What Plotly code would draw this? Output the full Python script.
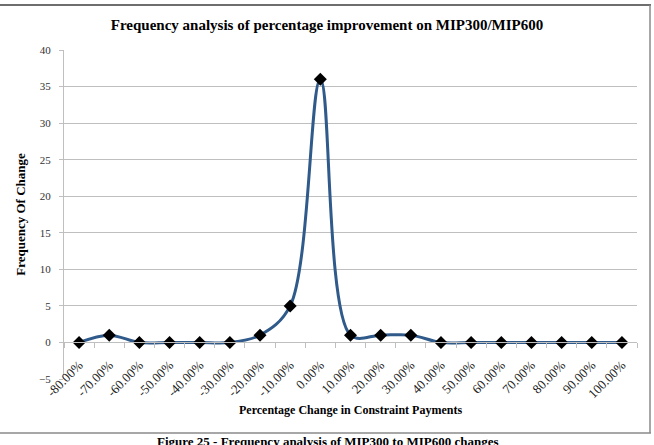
import plotly.graph_objects as go

categories = ["-80.00%", "-70.00%", "-60.00%", "-50.00%", "-40.00%", "-30.00%",
              "-20.00%", "-10.00%", "0.00%", "10.00%", "20.00%", "30.00%",
              "40.00%", "50.00%", "60.00%", "70.00%", "80.00%", "90.00%", "100.00%"]
frequency = [0, 1, 0, 0, 0, 0, 1, 5, 36, 1, 1, 1, 0, 0, 0, 0, 0, 0, 0]
y_ticks = [-5, 0, 5, 10, 15, 20, 25, 30, 35, 40]

SERIF = "Liberation Serif, Times New Roman, serif"
GRID = "#BFBFBF"

fig = go.Figure()
fig.add_trace(go.Scatter(
    x=categories, y=frequency, mode="lines+markers",
    line=dict(color="#2F5A8A", width=3, shape="spline", smoothing=1),
    marker=dict(symbol="diamond", size=10, color="black"),
    showlegend=False, hoverinfo="x+y",
))
# invisible helper trace so the crossing axis at y=0 has its categories
fig.add_trace(go.Scatter(
    x=categories, y=frequency, mode="lines", xaxis="x2",
    opacity=0, showlegend=False, hoverinfo="skip",
))

L, R, T, B = 64, 17, 50, 66
W, H = 654, 445
pw, ph = W - L - R, H - T - B

def px(x):
    return (x - L) / pw

def py(y):
    return (H - B - y) / ph

fig.update_layout(
    width=W, height=H,
    margin=dict(l=L, r=R, t=T, b=B, autoexpand=False),
    paper_bgcolor="white", plot_bgcolor="white",
    title=dict(text="<b>Frequency analysis of percentage improvement on MIP300/MIP600</b>",
               x=0.5, xref="container", xanchor="center",
               y=1 - 25 / H, yref="container", yanchor="middle",
               font=dict(family=SERIF, size=15, color="black")),
    xaxis=dict(
        type="category", range=[-0.5, len(categories) - 0.5], automargin=False,
        showticklabels=False, ticks="", showgrid=False, showline=False, zeroline=False,
    ),
    xaxis2=dict(
        type="category", overlaying="x", anchor="free", position=1 / 9,
        range=[-0.5, len(categories) - 0.5], automargin=False,
        showline=True, linecolor=GRID, linewidth=1,
        ticks="outside", tickson="boundaries", ticklen=5, tickcolor=GRID,
        showticklabels=True, tickangle=-45, ticklabelstandoff=9,
        tickfont=dict(family=SERIF, size=13, color="#222"),
        showgrid=False, zeroline=False,
    ),
    yaxis=dict(
        range=[-5, 40], tickvals=y_ticks, showgrid=True, gridcolor=GRID, gridwidth=1,
        zeroline=False, showline=True, linecolor=GRID, linewidth=1, automargin=False,
        ticks="outside", ticklen=4, tickcolor=GRID, ticklabelstandoff=6,
        tickfont=dict(family=SERIF, size=11, color="#333"),
        title=dict(text="<b>Frequency Of Change</b>",
                   font=dict(family=SERIF, size=13, color="black"), standoff=10),
    ),
    shapes=[
        dict(type="line", xref="paper", yref="paper", x0=px(0), x1=px(651), y0=py(5), y1=py(5),
             line=dict(color="#6E6E6E", width=2)),
        dict(type="line", xref="paper", yref="paper", x0=px(650), x1=px(650), y0=py(5), y1=py(433),
             line=dict(color="#8A8A8A", width=1.5)),
        dict(type="line", xref="paper", yref="paper", x0=px(0), x1=px(651), y0=py(433), y1=py(433),
             line=dict(color="#8A8A8A", width=1.5)),
    ],
    annotations=[
        dict(text="<b>Percentage Change in Constraint Payments</b>",
             xref="paper", yref="paper", x=0.5, y=py(410), xanchor="center", yanchor="middle",
             showarrow=False, font=dict(family=SERIF, size=12, color="black")),
        dict(text="<b>Figure 25 - Frequency analysis of MIP300 to MIP600 changes</b>",
             xref="paper", yref="paper", x=px(327), y=py(441.5), xanchor="center", yanchor="middle",
             showarrow=False, font=dict(family=SERIF, size=13, color="black")),
    ],
)

fig.write_html("out.html")
